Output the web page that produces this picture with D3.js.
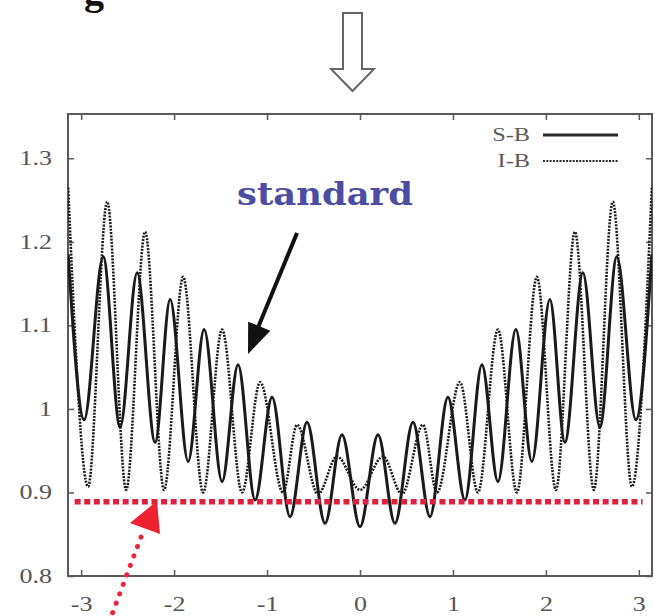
<!DOCTYPE html>
<html>
<head>
<meta charset="utf-8">
<script src="https://cdn.jsdelivr.net/npm/d3@7"></script>
<style>
  html, body { margin: 0; padding: 0; background: #fff; }
  svg { display: block; }
</style>
</head>
<body>
<svg id="chart" width="655" height="616"></svg>
<script>
// Axis ticks
const xTicks = [-3, -2, -1, 0, 1, 2, 3];
const yTicks = [0.8, 0.9, 1, 1.1, 1.2, 1.3];
const yTickLabels = ["0.8", "0.9", "1", "1.1", "1.2", "1.3"];

// S-B: turning points of the solid curve (x, value)
const sbX = [-3.14, -2.968, -2.763, -2.581, -2.398, -2.204, -2.043, -1.849, -1.677, -1.484,
             -1.312, -1.129, -0.946, -0.753, -0.570, -0.376, -0.194, 0, 0.194, 0.376,
             0.570, 0.753, 0.946, 1.129, 1.312, 1.484, 1.677, 1.849, 2.043, 2.204,
             2.398, 2.581, 2.763, 2.968, 3.14];
const sbY = [1.185, 0.987, 1.182, 0.978, 1.163, 0.960, 1.131, 0.937, 1.095, 0.913,
             1.053, 0.891, 1.014, 0.871, 0.984, 0.863, 0.969, 0.859, 0.969, 0.863,
             0.984, 0.871, 1.014, 0.891, 1.053, 0.913, 1.095, 0.937, 1.131, 0.960,
             1.163, 0.978, 1.182, 0.987, 1.185];

// I-B: turning points of the dotted curve (x, value)
const ibX = [-3.14, -2.925, -2.720, -2.516, -2.312, -2.108, -1.903, -1.688, -1.484, -1.269,
             -1.075, -0.828, -0.677, -0.452, -0.247, 0, 0.247, 0.452, 0.677, 0.828,
             1.075, 1.269, 1.484, 1.688, 1.903, 2.108, 2.312, 2.516, 2.720, 2.925, 3.14];
const ibY = [1.265, 0.907, 1.248, 0.903, 1.212, 0.903, 1.158, 0.900, 1.095, 0.900,
             1.032, 0.900, 0.981, 0.898, 0.943, 0.903, 0.943, 0.898, 0.981, 0.900,
             1.032, 0.900, 1.095, 0.900, 1.158, 0.903, 1.212, 0.903, 1.248, 0.907, 1.265];

// Horizontal reference level and its extent
const levelValue = 0.889;
const levelSpan = [-3.07, 3.04];

const seriesNames = ["S-B", "I-B"];
const noteText = "standard";

const svg = d3.select("#chart");
const plot = { left: 68, right: 652, top: 114, bottom: 576 };

const x = d3.scaleLinear().domain([-Math.PI, Math.PI]).range([plot.left, plot.right]);
const y = d3.scaleLinear().domain([0.8, 1.353]).range([plot.bottom, plot.top]);

const frameColor = "#5a5a5a";
const labelFont = "'Liberation Serif', 'Times New Roman', serif";

// stretch a text horizontally by a factor, keeping its anchor
function widen(sel, k) {
  sel.each(function () {
    const w = this.getComputedTextLength();
    d3.select(this).attr("textLength", w * k).attr("lengthAdjust", "spacingAndGlyphs");
  });
}

// Axes with inward ticks on all four sides
const tickLen = 6;
const bottomAxis = svg.append("g")
  .attr("transform", `translate(0,${plot.bottom})`)
  .call(d3.axisBottom(x).tickValues(xTicks).tickFormat(d => d < 0 ? "-" + Math.abs(d) : d)
        .tickSize(-tickLen).tickPadding(21));
const topAxis = svg.append("g")
  .attr("transform", `translate(0,${plot.top})`)
  .call(d3.axisTop(x).tickValues(xTicks).tickFormat("").tickSize(-tickLen));
const leftAxis = svg.append("g")
  .attr("transform", `translate(${plot.left},0)`)
  .call(d3.axisLeft(y).tickValues(yTicks).tickFormat((d, i) => yTickLabels[i])
        .tickSize(-tickLen).tickPadding(16));
const rightAxis = svg.append("g")
  .attr("transform", `translate(${plot.right},0)`)
  .call(d3.axisRight(y).tickValues(yTicks).tickFormat("").tickSize(-tickLen));

[bottomAxis, topAxis, leftAxis, rightAxis].forEach(g => {
  g.select(".domain").remove();
  g.selectAll(".tick line").attr("stroke", frameColor).attr("stroke-width", 1.5);
  g.selectAll("text")
    .attr("fill", "#555")
    .style("font-family", labelFont)
    .style("font-size", "20px");
});
widen(bottomAxis.selectAll("text"), 1.3);
widen(leftAxis.selectAll("text"), 1.3);

// Plot frame
svg.append("rect")
  .attr("x", plot.left).attr("y", plot.top)
  .attr("width", plot.right - plot.left).attr("height", plot.bottom - plot.top)
  .attr("fill", "none").attr("stroke", frameColor).attr("stroke-width", 2);

// Curves
const line = d3.line().x(d => x(d[0])).y(d => y(d[1])).curve(d3.curveMonotoneX);
const sbData = sbX.map((v, i) => [v, sbY[i]]);
const ibData = ibX.map((v, i) => [v, ibY[i]]);

svg.append("clipPath").attr("id", "plotClip")
  .append("rect").attr("x", plot.left).attr("y", plot.top)
  .attr("width", plot.right - plot.left).attr("height", plot.bottom - plot.top);

svg.append("path").datum(ibData)
  .attr("clip-path", "url(#plotClip)")
  .attr("d", line).attr("fill", "none")
  .attr("stroke", "#1a1a1a").attr("stroke-width", 2.6)
  .attr("stroke-dasharray", "2,1.3");

svg.append("path").datum(sbData)
  .attr("clip-path", "url(#plotClip)")
  .attr("d", line).attr("fill", "none")
  .attr("stroke", "#1a1a1a").attr("stroke-width", 3);

// Reference level
svg.append("line")
  .attr("x1", x(levelSpan[0])).attr("x2", x(levelSpan[1]))
  .attr("y1", y(levelValue)).attr("y2", y(levelValue))
  .attr("stroke", "#e0203a").attr("stroke-width", 5.5)
  .attr("stroke-dasharray", "6,3.6");

// Legend
const legend = svg.append("g");
const legendRows = [
  { name: seriesNames[0], yPos: 141, dash: null, width: 3 },
  { name: seriesNames[1], yPos: 167, dash: "2,1.3", width: 2 }
];
legendRows.forEach(r => {
  const t = legend.append("text")
    .attr("x", 530).attr("y", r.yPos)
    .attr("text-anchor", "end")
    .attr("fill", "#5a5a5a")
    .style("font-family", labelFont)
    .style("font-size", "18px")
    .text(r.name);
  widen(t, 1.35);
  legend.append("line")
    .attr("x1", 543).attr("x2", 618)
    .attr("y1", r.yPos - 6).attr("y2", r.yPos - 6)
    .attr("stroke", "#2a2a2a").attr("stroke-width", r.width)
    .attr("stroke-dasharray", r.dash);
});

// Annotation text
const note = svg.append("text")
  .attr("x", 237).attr("y", 205)
  .attr("fill", "#4d4ca3")
  .style("font-family", "'DejaVu Serif', serif")
  .style("font-weight", "bold")
  .style("font-size", "32px")
  .text(noteText);
note.attr("textLength", 176).attr("lengthAdjust", "spacingAndGlyphs");

// Black pointer arrow
const tip = [248, 354], tail = [297, 233];
svg.append("line")
  .attr("x1", tail[0]).attr("y1", tail[1])
  .attr("x2", 257).attr("y2", 330)
  .attr("stroke", "#111").attr("stroke-width", 4);
(function () {
  const dx = tip[0] - tail[0], dy = tip[1] - tail[1];
  const L = Math.hypot(dx, dy), ux = dx / L, uy = dy / L;
  const bx = tip[0] - 30 * ux, by = tip[1] - 30 * uy;
  const px = -uy, py = ux;
  svg.append("path")
    .attr("d", `M${tip[0]},${tip[1]}L${bx + 12 * px},${by + 12 * py}L${bx - 12 * px},${by - 12 * py}Z`)
    .attr("fill", "#111");
})();

// Red dotted pointer from below
svg.append("line")
  .attr("x1", 141).attr("y1", 537)
  .attr("x2", 108).attr("y2", 625)
  .attr("stroke", "#e8283a").attr("stroke-width", 5)
  .attr("stroke-linecap", "round")
  .attr("stroke-dasharray", "0.1,10");
svg.append("path")
  .attr("d", "M157,501L130,523L160,534Z")
  .attr("fill", "#ee2230");

// Hollow downward arrow above the plot
svg.append("path")
  .attr("d", "M343,13L362,13L362,69L374,69L352.5,91L331,69L343,69Z")
  .attr("fill", "#fff").attr("stroke", "#666").attr("stroke-width", 2)
  .attr("stroke-linejoin", "miter");

// Tail of a heading cut off at the top edge
svg.append("text")
  .attr("x", 84).attr("y", 4)
  .attr("fill", "#111")
  .style("font-family", labelFont)
  .style("font-weight", "bold")
  .style("font-size", "40px")
  .text("g");
</script>
</body>
</html>
